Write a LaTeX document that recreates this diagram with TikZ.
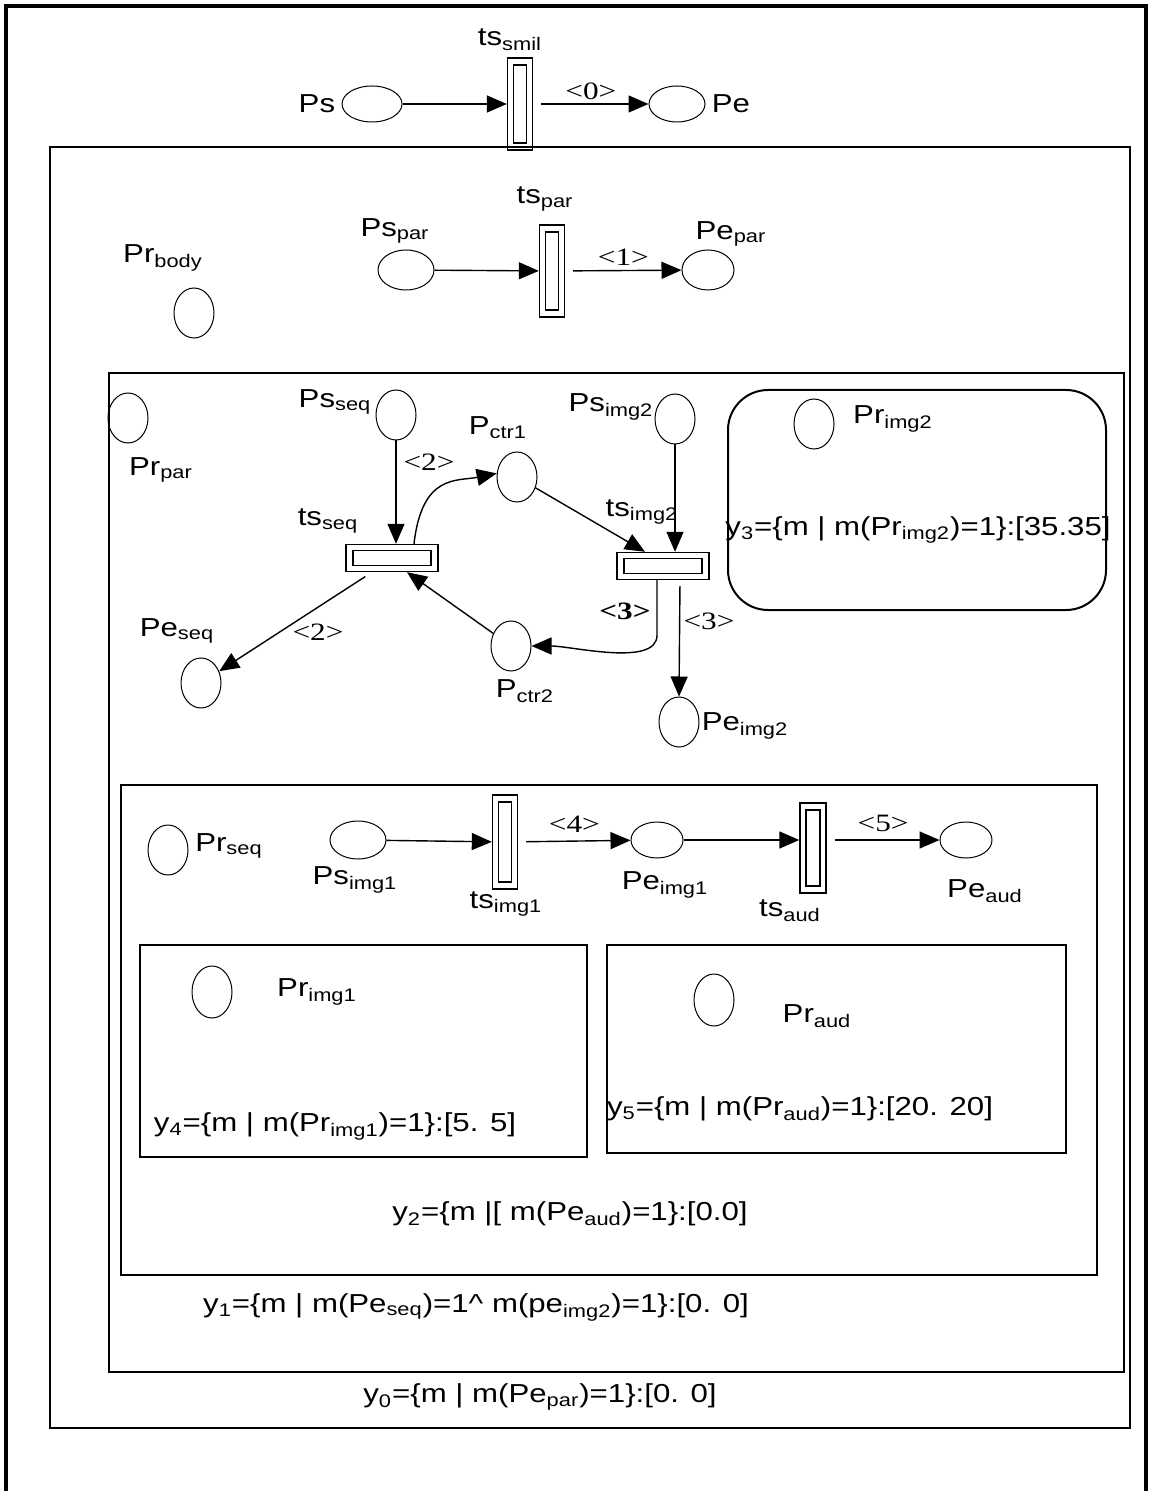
\documentclass[tikz,border=0pt]{standalone}
\usepackage{fontspec}
\setmainfont{Liberation Sans}[FakeStretch=1.2]
\newfontfamily\arcfont{Liberation Serif}[FakeStretch=1.25]
\usetikzlibrary{positioning,arrows.meta,shapes.geometric}
\newcommand{\lo}[1]{\textsubscript{#1}}

\begin{document}
\begin{tikzpicture}[
  x=0.5pt, y=-0.5pt,
  font=\fontsize{13}{15}\selectfont,
  place/.style={ellipse, draw, line width=0.5pt, inner sep=0pt,
                minimum width=20pt, minimum height=25pt},
  hplace/.style={place, minimum width=28pt, minimum height=18pt},
  vtrans/.style={draw, line width=0.7pt, inner sep=0pt,
                 minimum width=12.5pt, minimum height=46pt,
                 path picture={\draw[line width=0.6pt]
                   ([shift={(3pt,-3.5pt)}]path picture bounding box.north west) rectangle
                   ([shift={(-3pt,3.5pt)}]path picture bounding box.south east);}},
  htrans/.style={draw, line width=0.7pt, inner sep=0pt,
                 minimum width=46pt, minimum height=13.5pt,
                 path picture={\draw[line width=0.6pt]
                   ([shift={(3.5pt,-3pt)}]path picture bounding box.north west) rectangle
                   ([shift={(-3.5pt,3pt)}]path picture bounding box.south east);}},
  lbl/.style={inner sep=1pt},
  arclbl/.style={inner sep=1pt, font=\arcfont\fontsize{12.5}{14}\selectfont},
  arr/.style={-{Triangle[length=10pt,width=8.5pt]}, line width=0.7pt},
  box/.style={draw, line width=1pt},
  node distance=2pt]

\useasboundingbox (0,0) rectangle (1150,1491);

% outer frame and nested regions
\draw[line width=2pt] (6,1491) -- (6,6) -- (1146,6) -- (1146,1491);
\draw[box] (50,147) rectangle (1130,1428);
\draw[box] (109,373) rectangle (1124,1372);
\draw[box] (121,785) rectangle (1097,1275);
\draw[box, rounded corners=20pt] (728,390) rectangle (1106,610);
\draw[box] (140,945) rectangle (587,1157);
\draw[box] (607,945) rectangle (1066,1153);

% smil level
\node[hplace, minimum width=30pt] (Ps) at (372,104) {};
\node[vtrans] (tsSmil) at (520,104) {};
\node[hplace] (Pe) at (677,104) {};
\node[lbl, left=of Ps] (PsL) {Ps};
\node[lbl, right=of Pe] (PeL) {Pe};
\node[lbl] (tsSmilL) at (510,40) {ts\lo{smil}};

% body level
\node[place] (PrBody) at (194,313) {};
\node[lbl] (PrBodyL) at (163,258) {Pr\lo{body}};
\node[hplace, minimum height=20pt] (PsPar) at (406,270) {};
\node[vtrans] (tsPar) at (552,271) {};
\node[hplace, minimum width=26pt, minimum height=20pt] (PePar) at (708,270) {};
\node[lbl] (PsParL) at (395,231) {Ps\lo{par}};
\node[lbl] (tsParL) at (545,199) {ts\lo{par}};
\node[lbl] (PeParL) at (731,234) {Pe\lo{par}};

% par level
\node[place] (PrPar) at (128,418) {};
\node[lbl] (PrParL) at (161,470) {Pr\lo{par}};
\node[place] (PsSeq) at (396,415) {};
\node[lbl] (PsSeqL) at (335,402) {Ps\lo{seq}};
\node[htrans] (tsSeq) at (392,558) {};
\node[lbl] (tsSeqL) at (328,521) {ts\lo{seq}};
\node[place] (Pctr1) at (517,477) {};
\node[lbl] (Pctr1L) at (498,428) {P\lo{ctr1}};
\node[place] (PsImg2) at (675,419) {};
\node[lbl] (PsImg2L) at (611,407) {Ps\lo{img2}};
\node[htrans] (tsImg2) at (663,566) {};
\node[lbl] (tsImg2L) at (642,512) {ts\lo{img2}};
\node[place] (Pctr2) at (511,646) {};
\node[lbl] (Pctr2L) at (525,691) {P\lo{ctr2}};
\node[place] (PeSeq) at (201,683) {};
\node[lbl] (PeSeqL) at (177,631) {Pe\lo{seq}};
\node[place] (PeImg2) at (679,722) {};
\node[lbl] (PeImg2L) at (745,726) {Pe\lo{img2}};
\node[place] (PrImg2) at (814,424) {};
\node[lbl] (PrImg2L) at (893,419) {Pr\lo{img2}};
\node[lbl] (y3) at (918,530) {y\lo{3}=\{m | m(Pr\lo{img2})=1\}:[35.35]};

% seq level
\node[place] (PrSeq) at (168,850) {};
\node[lbl] (PrSeqL) at (229,846) {Pr\lo{seq}};
\node[hplace, minimum height=19pt] (PsImg1) at (358,840) {};
\node[lbl] (PsImg1L) at (355,880) {Ps\lo{img1}};
\node[vtrans, minimum height=47pt] (tsImg1) at (505,842) {};
\node[lbl] (tsImg1L) at (506,904) {ts\lo{img1}};
\node[hplace, minimum width=26pt] (PeImg1) at (657,840) {};
\node[lbl] (PeImg1L) at (665,885) {Pe\lo{img1}};
\node[vtrans, minimum width=13pt, minimum height=45pt] (tsAud) at (813,848) {};
\node[lbl] (tsAudL) at (790,911) {ts\lo{aud}};
\node[hplace, minimum width=26pt] (PeAud) at (966,840) {};
\node[lbl] (PeAudL) at (985,891) {Pe\lo{aud}};

% leaf regions
\node[place, minimum height=26pt] (PrImg1) at (212,992) {};
\node[lbl] (PrImg1L) at (317,992) {Pr\lo{img1}};
\node[lbl] (y4) at (335,1126) {y\lo{4}=\{m | m(Pr\lo{img1})=1\}:[5. 5]};
\node[place, minimum height=26pt] (PrAud) at (714,1000) {};
\node[lbl] (PrAudL) at (817,1016) {Pr\lo{aud}};
\node[lbl] (y5) at (800,1109) {y\lo{5}=\{m | m(Pr\lo{aud})=1\}:[20. 20]};

% region conditions
\node[lbl] (y2) at (570,1214) {y\lo{2}=\{m |[ m(Pe\lo{aud})=1\}:[0.0]};
\node[lbl] (y1) at (476,1307) {y\lo{1}=\{m | m(Pe\lo{seq})=1\textasciicircum\ m(pe\lo{img2})=1\}:[0. 0]};
\node[lbl] (y0) at (540,1397) {y\lo{0}=\{m | m(Pe\lo{par})=1\}:[0. 0]};

% arcs
\draw[arr] (Ps) -- (tsSmil);
\draw[arr, shorten <=4pt] (tsSmil) -- node[arclbl, above=1pt] (a0) {<0>} (Pe);
\draw[arr] (PsPar) -- (tsPar);
\draw[arr, shorten <=4pt] (tsPar) -- node[arclbl, above=1pt] (a1) {<1>} (PePar);
\draw[arr] (PsSeq) -- (PsSeq |- tsSeq.north);
\draw[arr] ([xshift=11pt]tsSeq.north) .. controls +(8,-70) and +(-40,8) .. (Pctr1.170);
\node[arclbl] (a2a) at (429,462) {<2>};
\draw[arr] (Pctr1) -- ([xshift=-9pt]tsImg2.north);
\draw[arr] (PsImg2) -- (PsImg2 |- tsImg2.north);
\draw[arr] ([xshift=-3pt]tsImg2.south) -- ++(0,55) .. controls +(0,32) and +(40,0) .. (Pctr2.east);
\node[arclbl, font=\arcfont\bfseries\fontsize{12.5}{14}\selectfont] (a3a) at (625,611) {<3>};
\draw[arr, shorten <=3pt] ([xshift=8.5pt]tsImg2.south) -- (PeImg2.north);
\node[arclbl] (a3b) at (709,621) {<3>};
\draw[arr] (Pctr2) -- ([xshift=7.5pt]tsSeq.south);
\draw[arr, shorten <=4pt] ([xshift=-10pt]tsSeq.south) -- (PeSeq);
\node[arclbl] (a2b) at (318,632) {<2>};
\draw[arr] (PsImg1) -- (tsImg1);
\draw[arr, shorten <=4pt] (tsImg1) -- node[arclbl, above=3pt] (a4) {<4>} (PeImg1);
\draw[arr] (PeImg1) -- (PeImg1 -| tsAud.west);
\draw[arr, shorten <=4pt] (tsAud.east |- PeAud) -- node[arclbl, above=3pt] (a5) {<5>} (PeAud);
\end{tikzpicture}
\end{document}
